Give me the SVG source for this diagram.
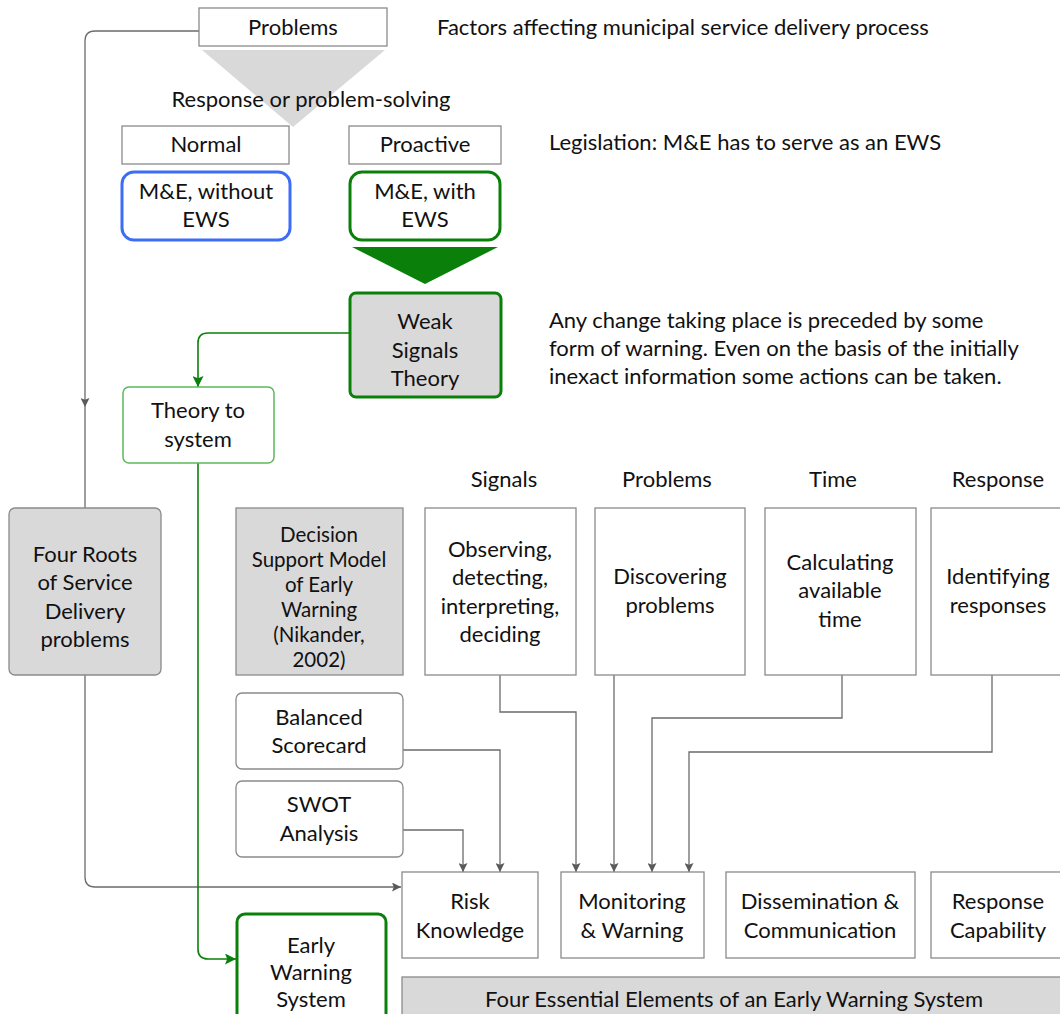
<svg xmlns="http://www.w3.org/2000/svg" width="1060" height="1014" viewBox="0 0 1060 1014">
  <style>
    text { font-family: Lato, "Open Sans", "DejaVu Sans", sans-serif; fill: #111; font-size: 22px; }
    .c { text-anchor: middle; }
    .sm { font-size: 20.5px; }
    .box { fill: #fff; stroke: #8a8a8a; stroke-width: 1.3; }
    .gray { fill: #d9d9d9; stroke: #8a8a8a; stroke-width: 1.3; }
    .edge { fill: none; stroke: #6b6b6b; stroke-width: 1.3; }
    .gedge { fill: none; stroke: #0a800a; stroke-width: 1.6; }
  </style>
  <defs>
    <marker id="ag" viewBox="0 0 10 10" refX="10" refY="5" markerWidth="9" markerHeight="9" markerUnits="userSpaceOnUse" orient="auto">
      <path d="M0,0 L10,5 L0,10 L2,5 z" fill="#5a5a5a"/>
    </marker>
    <marker id="agr" viewBox="0 0 10 10" refX="10" refY="5" markerWidth="11" markerHeight="11" markerUnits="userSpaceOnUse" orient="auto">
      <path d="M0,0 L10,5 L0,10 L2,5 z" fill="#0a800a"/>
    </marker>
  </defs>

  <!-- free labels -->
  <g id="labels">
    <text x="437" y="35">Factors affecting municipal service delivery process</text>
    <text x="549" y="150">Legislation: M&amp;E has to serve as an EWS</text>
    <text x="549" y="328">Any change taking place is preceded by some</text>
    <text x="549" y="356">form of warning. Even on the basis of the initially</text>
    <text x="549" y="384">inexact information some actions can be taken.</text>
    <text class="c" x="504" y="487">Signals</text>
    <text class="c" x="667" y="487">Problems</text>
    <text class="c" x="833" y="487">Time</text>
    <text class="c" x="998" y="487">Response</text>
  </g>

  <!-- funnel shapes -->
  <polygon id="funnel" points="202,50 385,50 293,127" fill="#d9d9d9"/>
  <text class="c" x="311" y="107">Response or problem-solving</text>
  <polygon id="green-funnel" points="352,247 498,247 425,284" fill="#0a800a"/>

  <!-- connectors -->
  <g id="connectors">
    <path class="edge" d="M199,31 H95 Q85,31 85,41 V407" marker-end="url(#ag)"/>
    <path class="edge" d="M85,407 V508"/>
    <path class="edge" d="M85,675 V877 Q85,887 95,887 H401" marker-end="url(#ag)"/>
    <path class="edge" d="M500,675 V712 H576 V872" marker-end="url(#ag)"/>
    <path class="edge" d="M614,675 V872" marker-end="url(#ag)"/>
    <path class="edge" d="M842,675 V718 H652 V872" marker-end="url(#ag)"/>
    <path class="edge" d="M992,675 V752 H689 V872" marker-end="url(#ag)"/>
    <path class="edge" d="M403,750 H500 V872" marker-end="url(#ag)"/>
    <path class="edge" d="M403,830 H463 V872" marker-end="url(#ag)"/>
    <path class="gedge" d="M349,333 H208 Q198,333 198,343 V387" marker-end="url(#agr)"/>
    <path class="gedge" d="M198,463 V949 Q198,959 208,959 H236" marker-end="url(#agr)"/>
  </g>

  <g id="problems">
    <rect class="box" x="199" y="8" width="188" height="38"/>
    <text class="c" x="293" y="35">Problems</text>
  </g>
  <g id="normal">
    <rect class="box" x="122" y="126" width="167" height="38"/>
    <text class="c" x="206" y="152">Normal</text>
  </g>
  <g id="proactive">
    <rect class="box" x="349" y="126" width="152" height="38"/>
    <text class="c" x="425" y="152">Proactive</text>
  </g>
  <g id="me-without-ews">
    <rect x="122" y="172" width="168" height="68" rx="12" fill="#fff" stroke="#3d6df5" stroke-width="3"/>
    <text class="c" x="206" y="199">M&amp;E, without</text>
    <text class="c" x="206" y="227">EWS</text>
  </g>
  <g id="me-with-ews">
    <rect x="350" y="172" width="150" height="68" rx="12" fill="#fff" stroke="#0a800a" stroke-width="3"/>
    <text class="c" x="425" y="199">M&amp;E, with</text>
    <text class="c" x="425" y="227">EWS</text>
  </g>
  <g id="weak-signals">
    <rect x="350" y="293" width="151" height="104" rx="6" fill="#d9d9d9" stroke="#0a800a" stroke-width="3"/>
    <text class="c" x="425" y="329">Weak</text>
    <text class="c" x="425" y="358">Signals</text>
    <text class="c" x="425" y="386">Theory</text>
  </g>
  <g id="theory-to-system">
    <rect x="123" y="387" width="151" height="76" rx="6" fill="#fff" stroke="#5cb85c" stroke-width="1.5"/>
    <text class="c" x="198" y="418">Theory to</text>
    <text class="c" x="198" y="447">system</text>
  </g>
  <g id="four-roots">
    <rect class="gray" x="9" y="508" width="152" height="167" rx="6"/>
    <text class="c" x="85" y="562">Four Roots</text>
    <text class="c" x="85" y="590">of Service</text>
    <text class="c" x="85" y="619">Delivery</text>
    <text class="c" x="85" y="647">problems</text>
  </g>
  <g id="decision-support">
    <rect class="gray" x="236" y="508" width="167" height="167"/>
    <text class="c sm" x="319" y="542">Decision</text>
    <text class="c sm" x="319" y="567">Support Model</text>
    <text class="c sm" x="319" y="592">of Early</text>
    <text class="c sm" x="319" y="617">Warning</text>
    <text class="c sm" x="319" y="642">(Nikander,</text>
    <text class="c sm" x="319" y="667">2002)</text>
  </g>
  <g id="observing">
    <rect class="box" x="425" y="508" width="151" height="167"/>
    <text class="c" x="500" y="557">Observing,</text>
    <text class="c" x="500" y="585">detecting,</text>
    <text class="c" x="500" y="614">interpreting,</text>
    <text class="c" x="500" y="642">deciding</text>
  </g>
  <g id="discovering">
    <rect class="box" x="595" y="508" width="150" height="167"/>
    <text class="c" x="670" y="584">Discovering</text>
    <text class="c" x="670" y="613">problems</text>
  </g>
  <g id="calculating">
    <rect class="box" x="765" y="508" width="151" height="167"/>
    <text class="c" x="840" y="570">Calculating</text>
    <text class="c" x="840" y="598">available</text>
    <text class="c" x="840" y="627">time</text>
  </g>
  <g id="identifying">
    <rect class="box" x="931" y="508" width="135" height="167"/>
    <text class="c" x="998" y="584">Identifying</text>
    <text class="c" x="998" y="613">responses</text>
  </g>
  <g id="balanced-scorecard">
    <rect class="box" x="236" y="693" width="167" height="76" rx="6"/>
    <text class="c" x="319" y="725">Balanced</text>
    <text class="c" x="319" y="753">Scorecard</text>
  </g>
  <g id="swot">
    <rect class="box" x="236" y="781" width="167" height="76" rx="6"/>
    <text class="c" x="319" y="812">SWOT</text>
    <text class="c" x="319" y="841">Analysis</text>
  </g>
  <g id="risk-knowledge">
    <rect class="box" x="402" y="872" width="136" height="86"/>
    <text class="c" x="470" y="909">Risk</text>
    <text class="c" x="470" y="938">Knowledge</text>
  </g>
  <g id="monitoring">
    <rect class="box" x="561" y="872" width="143" height="86"/>
    <text class="c" x="632" y="909">Monitoring</text>
    <text class="c" x="632" y="938">&amp; Warning</text>
  </g>
  <g id="dissemination">
    <rect class="box" x="726" y="872" width="189" height="86"/>
    <text class="c" x="820" y="909">Dissemination &amp;</text>
    <text class="c" x="820" y="938">Communication</text>
  </g>
  <g id="response-capability">
    <rect class="box" x="931" y="872" width="135" height="86"/>
    <text class="c" x="998" y="909">Response</text>
    <text class="c" x="998" y="938">Capability</text>
  </g>
  <g id="early-warning-system">
    <rect x="237" y="914" width="149" height="130" rx="8" fill="#fff" stroke="#0a800a" stroke-width="3"/>
    <text class="c" x="311" y="953">Early</text>
    <text class="c" x="311" y="980">Warning</text>
    <text class="c" x="311" y="1007">System</text>
  </g>
  <g id="four-elements">
    <rect class="gray" x="402" y="977" width="664" height="50"/>
    <text class="c" x="734" y="1007">Four Essential Elements of an Early Warning System</text>
  </g>
</svg>
